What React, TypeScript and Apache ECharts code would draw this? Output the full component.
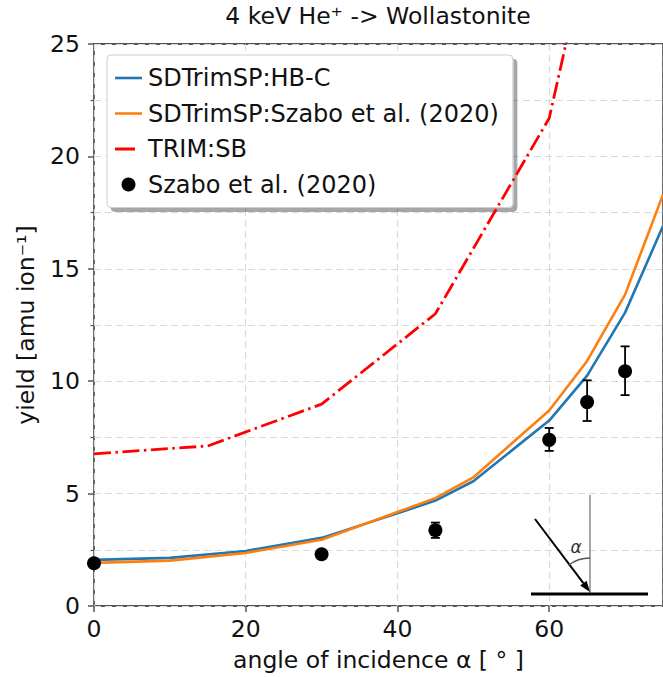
import React, { useEffect, useRef } from "react";
import * as echarts from "echarts";

// ---- data ----
const simAngles = [0, 10, 20, 30, 40, 45, 50, 60, 65, 70, 75];
const hbcYield = [2.05, 2.14, 2.45, 3.03, 4.12, 4.69, 5.55, 8.25, 10.25, 13.05, 16.9];
const szaboSimYield = [1.92, 2.02, 2.36, 2.95, 4.18, 4.8, 5.72, 8.7, 10.9, 13.85, 18.3];
const trimAngles = [0, 15, 30, 45, 60, 65];
const trimYield = [6.77, 7.12, 8.98, 13.0, 21.7, 29.2];
const expAngles = [0, 30, 45, 60, 65, 70];
const expYield = [1.9, 2.3, 3.37, 7.39, 9.07, 10.44];
const expLow = [1.75, 2.15, 3.03, 6.9, 8.23, 9.38];
const expHigh = [2.05, 2.45, 3.71, 7.92, 10.04, 11.55];
const yTicks = [0, 5, 10, 15, 20, 25];
const xTicks = [0, 20, 40, 60];

const seriesNames = [
  "SDTrimSP:HB-C",
  "SDTrimSP:Szabo et al. (2020)",
  "TRIM:SB",
  "Szabo et al. (2020)",
];

const FONT = "DejaVu Sans";

export default function App() {
  const ref = useRef<HTMLDivElement>(null);

  useEffect(() => {
    if (!ref.current) return;
    const chart = echarts.init(ref.current, null, { renderer: "svg" });

    const zip = (xs: number[], ys: number[]) => xs.map((x, i) => [x, ys[i]]);
    const errData = expAngles.map((x, i) => [x, expLow[i], expHigh[i]]);

    // arrow geometry for the inset sketch
    const tip = [590, 592];
    const tail = [535, 519];
    const dx = tip[0] - tail[0];
    const dy = tip[1] - tail[1];
    const len = Math.sqrt(dx * dx + dy * dy);
    const ux = dx / len;
    const uy = dy / len;
    const base = [tip[0] - 11 * ux, tip[1] - 11 * uy];
    const px = -uy * 4;
    const py = ux * 4;
    const arrowAngle = Math.atan2(-dy, -dx);

    const option: any = {
      animation: false,
      backgroundColor: "#fff",
      textStyle: { fontFamily: FONT },
      title: {
        text: "4 keV He\u207A -> Wollastonite",
        left: 378,
        textAlign: "center",
        top: 4,
        padding: 0,
        textStyle: { fontFamily: FONT, fontSize: 23.5, fontWeight: "normal", color: "#111" },
      },
      grid: {
        left: 94,
        right: -1,
        top: 44,
        bottom: 68,
        show: true,
        borderColor: "#555",
        borderWidth: 1.8,
        backgroundColor: "transparent",
      },
      legend: {
        data: [
          { name: seriesNames[0], icon: "path://M0,0H27V2.6H0Z" },
          { name: seriesNames[1], icon: "path://M0,0H27V2.6H0Z" },
          { name: seriesNames[2], icon: "path://M0,0H20V3H0Z M26.95,0H27V0.02H26.95Z" },
          { name: seriesNames[3], icon: "circle" },
        ],
        orient: "vertical",
        left: 107,
        top: 55,
        padding: [11, 14, 11, 8],
        itemWidth: 27,
        itemHeight: 14,
        itemGap: 11.5,
        symbolKeepAspect: true,
        backgroundColor: "#fff",
        borderColor: "#cfcfcf",
        borderWidth: 1,
        borderRadius: 4,
        shadowColor: "rgba(0,0,0,0.35)",
        shadowBlur: 1,
        shadowOffsetX: 4,
        shadowOffsetY: 4,
        textStyle: {
          fontFamily: FONT,
          fontSize: 24,
          lineHeight: 24,
          color: "#111",
          padding: [0, 0, 0, 1],
        },
        selectedMode: false,
      },
      xAxis: {
        type: "value",
        min: 0,
        max: 75,
        interval: 20,
        name: "angle of incidence \u03B1 [ \u00B0 ]",
        nameLocation: "middle",
        nameGap: 42,
        nameTextStyle: { fontFamily: FONT, fontSize: 23.5, color: "#111" },
        axisLine: { show: false },
        axisTick: { show: true, length: 6, lineStyle: { color: "#555", width: 1.5 } },
        axisLabel: {
          fontFamily: FONT,
          fontSize: 23.5,
          color: "#111",
          margin: 11,
          showMaxLabel: false,
          formatter: (v: number) => (xTicks.includes(v) ? String(v) : ""),
        },
        splitLine: {
          show: true,
          lineStyle: { color: "#dadada", type: [7, 4], width: 1.2 },
        },
      },
      yAxis: {
        type: "value",
        min: 0,
        max: 25,
        interval: 5,
        name: "yield [amu ion\u207B\u00B9]",
        nameLocation: "middle",
        nameGap: 56,
        nameTextStyle: { fontFamily: FONT, fontSize: 23.5, color: "#111" },
        axisLine: { show: false },
        axisTick: { show: true, length: 6, lineStyle: { color: "#555", width: 1.5 } },
        minorTick: { show: true, splitNumber: 2, length: 3.5, lineStyle: { color: "#555", width: 1.2 } },
        axisLabel: {
          fontFamily: FONT,
          fontSize: 23.5,
          color: "#111",
          margin: 14,
          formatter: (v: number) => (yTicks.includes(v) ? String(v) : ""),
        },
        splitLine: {
          show: true,
          lineStyle: { color: "#dadada", type: [7, 4], width: 1.2 },
        },
        minorSplitLine: {
          show: true,
          lineStyle: { color: "#dadada", type: [7, 4], width: 1.2 },
        },
      },
      series: [
        {
          name: seriesNames[0],
          type: "line",
          data: zip(simAngles, hbcYield),
          showSymbol: false,
          symbol: "none",
          color: "#1f77b4",
          lineStyle: { color: "#1f77b4", width: 2.6 },
          z: 3,
        },
        {
          name: seriesNames[1],
          type: "line",
          data: zip(simAngles, szaboSimYield),
          showSymbol: false,
          symbol: "none",
          color: "#ff7f0e",
          lineStyle: { color: "#ff7f0e", width: 2.6 },
          z: 4,
        },
        {
          name: seriesNames[2],
          type: "line",
          data: zip(trimAngles, trimYield),
          showSymbol: false,
          symbol: "none",
          color: "#ff0000",
          lineStyle: { color: "#ff0000", width: 2.8, type: [17, 4.5, 2.5, 4.5] },
          z: 5,
        },
        {
          name: "errors",
          type: "custom",
          data: errData,
          encode: { x: 0, y: [1, 2] },
          z: 6,
          renderItem: (params: any, api: any) => {
            const x = api.value(0);
            const lo = api.coord([x, api.value(1)]);
            const hi = api.coord([x, api.value(2)]);
            const cap = 4.5;
            const st = { stroke: "#000", lineWidth: 1.8 };
            return {
              type: "group",
              children: [
                { type: "line", shape: { x1: lo[0], y1: lo[1], x2: hi[0], y2: hi[1] }, style: st },
                { type: "line", shape: { x1: lo[0] - cap, y1: lo[1], x2: lo[0] + cap, y2: lo[1] }, style: st },
                { type: "line", shape: { x1: hi[0] - cap, y1: hi[1], x2: hi[0] + cap, y2: hi[1] }, style: st },
              ],
            };
          },
        },
        {
          name: seriesNames[3],
          type: "scatter",
          data: zip(expAngles, expYield),
          symbol: "circle",
          symbolSize: 14,
          color: "#000",
          itemStyle: { color: "#000", opacity: 1 },
          z: 7,
        },
      ],
      graphic: [
        {
          type: "line",
          z: 20,
          shape: { x1: 590, y1: 495, x2: 590, y2: 594 },
          style: { stroke: "#888", lineWidth: 1.5 },
        },
        {
          type: "line",
          z: 20,
          shape: { x1: 531, y1: 594, x2: 648, y2: 594 },
          style: { stroke: "#000", lineWidth: 3 },
        },
        {
          type: "line",
          z: 20,
          shape: { x1: tail[0], y1: tail[1], x2: base[0], y2: base[1] },
          style: { stroke: "#000", lineWidth: 2 },
        },
        {
          type: "polygon",
          z: 20,
          shape: {
            points: [
              [tip[0], tip[1]],
              [base[0] + px, base[1] + py],
              [base[0] - px, base[1] - py],
            ],
          },
          style: { fill: "#000" },
        },
        {
          type: "arc",
          z: 20,
          shape: { cx: 590, cy: 594, r: 36, startAngle: arrowAngle, endAngle: -Math.PI / 2, clockwise: true },
          style: { stroke: "#555", lineWidth: 1.5, fill: "none" },
        },
        {
          type: "text",
          z: 20,
          x: 576,
          y: 547,
          style: {
            text: "\u03B1",
            fontFamily: FONT,
            fontSize: 17,
            fontStyle: "italic",
            fill: "#333",
            align: "center",
            verticalAlign: "middle",
          },
        },
      ],
    };

    chart.setOption(option);
    return () => chart.dispose();
  }, []);

  return (
    <div
      ref={ref}
      style={{ position: "fixed", left: 0, top: 0, width: 663, height: 677, background: "#fff" }}
    />
  );
}
